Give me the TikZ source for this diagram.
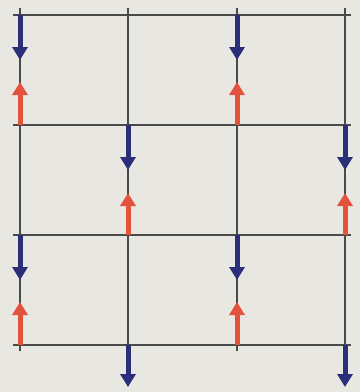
\documentclass[tikz,border=0pt]{standalone}
\usetikzlibrary{arrows.meta}
\definecolor{paper}{HTML}{E9E7E2}
\definecolor{gridgray}{HTML}{4A4A4A}
\definecolor{spinblue}{HTML}{2B2E78}
\definecolor{spinred}{HTML}{E2523D}

\begin{document}
\begin{tikzpicture}[
    x=1pt, y=-1pt,
    gridline/.style={draw=gridgray, line width=1.8pt},
    spindown/.style={-{Triangle[length=13pt,width=15pt]}, line width=5pt, draw=spinblue},
    spinup/.style={-{Triangle[length=13pt,width=15pt]}, line width=5pt, draw=spinred}
]
\fill[paper] (0,0) rectangle (360,392);

% lattice
\foreach \y in {15,125,235,345}
  \draw[gridline] (13,\y) -- (351,\y);
\foreach \x in {20,237}
  \draw[gridline] (\x,8) -- (\x,351);
\foreach \x in {128,345}
  \draw[gridline] (\x,8) -- (\x,345);

% spins on columns 1 and 3
\foreach \x in {20,237}
  \foreach \y in {15,235} {
    \draw[spindown] (\x,\y) -- ++(0,45);
    \draw[spinup] (\x,\y+110) -- ++(0,-43);
  }

% spins on columns 2 and 4
\foreach \x in {128,345} {
  \draw[spindown] (\x,125) -- ++(0,45);
  \draw[spinup] (\x,235) -- ++(0,-42);
  \draw[spindown] (\x,345) -- ++(0,42);
}
\end{tikzpicture}
\end{document}
